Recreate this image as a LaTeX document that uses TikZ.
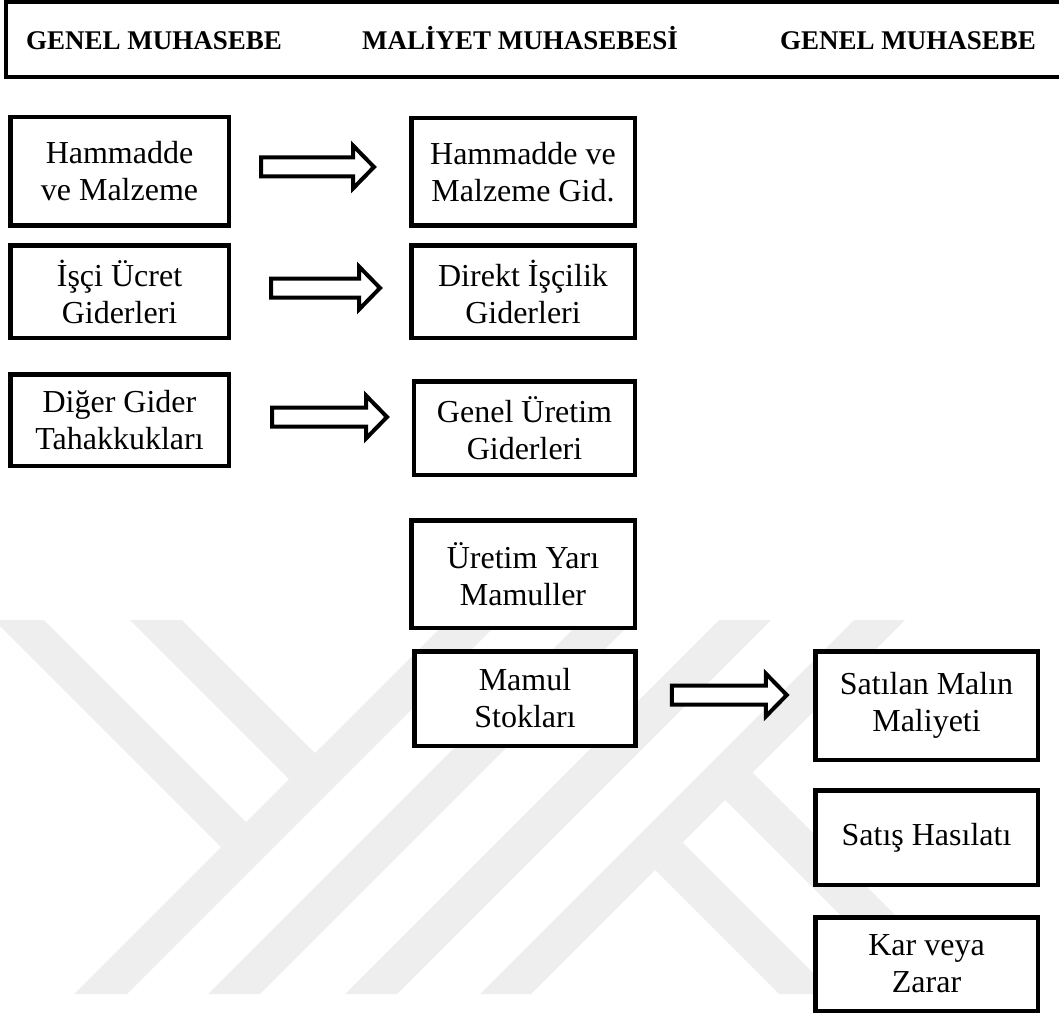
\documentclass[tikz,border=0pt]{standalone}
\usepackage{fontspec}
\setmainfont{Liberation Serif}
\usetikzlibrary{calc}

\definecolor{wmgray}{RGB}{238,238,238}

\tikzset{
  box/.style={draw=black, fill=white, line width=4.5pt, align=center,
    inner sep=0pt, font=\fontsize{32}{37}\selectfont},
  head/.style={font=\bfseries\fontsize{27}{31}\selectfont, inner sep=0pt, anchor=base},
  blockarrow/.style={draw=black, fill=white, line width=4pt, line join=miter},
  mark band/.style={fill=wmgray, draw=none}
}

% hollow block arrow from a named start point, #2 = length
\newcommand\blockarr[2]{%
  \draw[blockarrow] ($(#1)+(0,-9.5)$) -- ++(#2-21,0) -- ++(0,-12) -- ($(#1)+(#2,0)$)
    -- ($(#1)+(#2-21,21.5)$) -- ++(0,-12) -- ($(#1)+(0,9.5)$) -- cycle;}

\begin{document}
\begin{tikzpicture}[x=1pt, y=-1pt]
\useasboundingbox (0,0) rectangle (1059,1016);

% faint background emblem: Y arms, rising stripes, K legs
\fill[mark band] (-6,620) -- (44,620) -- (246,822) -- (221,847) -- cycle;
\fill[mark band] (130,620) -- (182,620) -- (315,753) -- (289,779) -- cycle;
\fill[mark band] (74,994) -- (127,994) -- (501,620) -- (448,620) -- cycle;
\fill[mark band] (208,994) -- (260,994) -- (634,620) -- (582,620) -- cycle;
\fill[mark band] (345,994) -- (397,994) -- (771,620) -- (719,620) -- cycle;
\fill[mark band] (480,994) -- (531,994) -- (905,620) -- (854,620) -- cycle;
\fill[mark band] (655,870) -- (682.5,842.5) -- (834,994) -- (779,994) -- cycle;
\fill[mark band] (725,800) -- (752.5,772.5) -- (974,994) -- (919,994) -- cycle;

% header band
\draw[line width=4pt] (1070,2) -- (6,2) -- (6,77) -- (1070,77);
\node[head] (h1) at (154,50) {GENEL MUHASEBE};
\node[head] (h2) at (520,50) {MALİYET MUHASEBESİ};
\node[head] (h3) at (908,50) {GENEL MUHASEBE};

% general accounting inputs
\node[box, minimum width=218.5pt, minimum height=108.5pt] (ham) at (119.5,171.5) {Hammadde\\ve Malzeme};
\node[box, minimum width=218.5pt, minimum height=92.5pt] (isci) at (119.5,291.5) {İşçi Ücret\\Giderleri};
\node[box, minimum width=218.5pt, minimum height=91.5pt] (diger) at (119.5,420) {Diğer Gider\\Tahakkukları};

% cost accounting
\node[box, minimum width=223.5pt, minimum height=107.5pt] (hamgid) at (523,172) {Hammadde ve\\Malzeme Gid.};
\node[box, minimum width=223.5pt, minimum height=92.5pt] (direkt) at (523,291.5) {Direkt İşçilik\\Giderleri};
\node[box, minimum width=221pt, minimum height=93.5pt] (gug) at (524.5,428) {Genel Üretim\\Giderleri};
\node[box, minimum width=223.5pt, minimum height=107.5pt] (yari) at (523,574) {Üretim Yarı\\Mamuller};
\node[box, minimum width=221pt, minimum height=94.5pt] (mamul) at (525,698.5) {Mamul\\Stokları};

% general accounting results
\node[box, minimum width=222.5pt, minimum height=108.5pt] (smm) at (926.5,705.5) {Satılan Malın\\Maliyeti};
\node[box, minimum width=222.5pt, minimum height=94.5pt] (satis) at (926.5,837.5) {Satış Hasılatı};
\node[box, minimum width=222.5pt, minimum height=93.5pt] (kar) at (926.5,964) {Kar veya\\Zarar};

% transfer arrows
\coordinate (a1) at ($(ham.east)+(30,-4.5)$);
\coordinate (a2) at ($(isci.east)+(40,-3.5)$);
\coordinate (a3) at ($(diger.east)+(41,-3)$);
\coordinate (a4) at ($(mamul.east)+(34,-3.5)$);
\blockarr{a1}{113}
\blockarr{a2}{109}
\blockarr{a3}{115}
\blockarr{a4}{115}
\end{tikzpicture}
\end{document}
